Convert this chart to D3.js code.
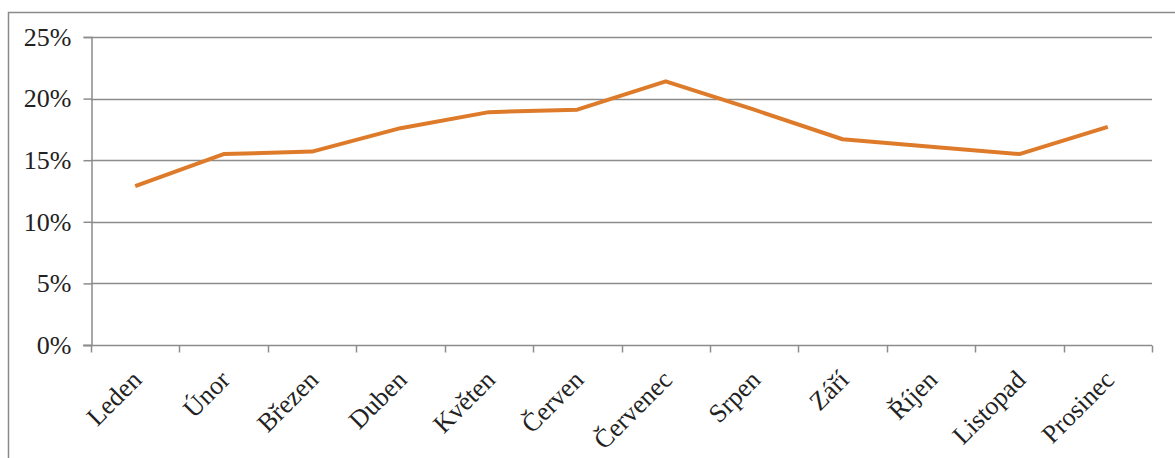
<!DOCTYPE html>
<html>
<head>
<meta charset="utf-8">
<script src="https://cdn.jsdelivr.net/npm/d3@7"></script>
<style>
  body { margin: 0; background: #fff; }
  svg { display: block; }
</style>
</head>
<body>
<script>
var width = 1175;
var height = 458;

// months and share values
var months = ["Leden", "Únor", "Březen", "Duben", "Květen", "Červen",
              "Červenec", "Srpen", "Září", "Říjen", "Listopad", "Prosinec"];
var shares = [0.129, 0.155, 0.157, 0.176, 0.189, 0.191,
              0.214, 0.191, 0.167, 0.161, 0.155, 0.177];
var yTicks = [0, 0.05, 0.10, 0.15, 0.20, 0.25];

var svg = d3.select("body")
    .append("svg")
    .attr("width", width)
    .attr("height", height);

svg.append("rect")
    .attr("width", "100%")
    .attr("height", "100%")
    .attr("fill", "#fff");

// outer frame (right and bottom are cut off in the original)
svg.append("path")
    .attr("d", "M8.5," + height + "V12.5H" + width)
    .attr("fill", "none")
    .attr("stroke", "#8a8a8a")
    .attr("stroke-width", 1.5);

var x = d3.scaleBand()
    .domain(months)
    .range([91, 1152])
    .padding(0);

var y = d3.scaleLinear()
    .domain([0, 0.25])
    .range([345, 37]);

// gridlines
svg.append("g")
    .selectAll("line")
    .data(yTicks.slice(1))
    .enter().append("line")
    .attr("x1", 91)
    .attr("x2", 1152)
    .attr("y1", function(d) { return Math.round(y(d)) + 0.5; })
    .attr("y2", function(d) { return Math.round(y(d)) + 0.5; })
    .style("stroke", "#8c8c8c")
    .style("stroke-width", 1.5);

// y axis
var yAxis = svg.append("g")
    .attr("transform", "translate(91.5,0)")
    .call(d3.axisLeft(y).tickValues(yTicks).tickSize(8).tickPadding(12)
        .tickFormat(d3.format(".0%")));

yAxis.selectAll("text")
    .style("font-family", "'Liberation Serif', 'Times New Roman', serif")
    .style("font-size", "26px")
    .style("fill", "#222");

// x axis, ticks sit between categories
var xAxis = svg.append("g")
    .attr("transform", "translate(0," + (Math.round(y(0)) + 0.5) + ")");

xAxis.append("line")
    .attr("x1", 83)
    .attr("x2", 1152)
    .style("stroke", "#8c8c8c")
    .style("stroke-width", 1.5);

xAxis.selectAll(".tick")
    .data(months.concat(["end"]))
    .enter().append("line")
    .attr("x1", function(d, i) { return Math.round(x.range()[0] + i * x.step()) + 0.5; })
    .attr("x2", function(d, i) { return Math.round(x.range()[0] + i * x.step()) + 0.5; })
    .attr("y1", 0)
    .attr("y2", 7)
    .style("stroke", "#8c8c8c")
    .style("stroke-width", 1.5);

xAxis.selectAll("text")
    .data(months)
    .enter().append("text")
    .attr("transform", function(d) {
        return "translate(" + (x(d) + x.bandwidth() / 2 - 5) + ",23) rotate(-45)";
    })
    .attr("text-anchor", "end")
    .attr("dy", "0.7em")
    .style("font-family", "'Liberation Serif', 'Times New Roman', serif")
    .style("font-size", "26px")
    .style("fill", "#222")
    .text(function(d) { return d; });

yAxis.select(".domain").style("stroke", "#8c8c8c").style("stroke-width", 1.5);
yAxis.selectAll(".tick line").style("stroke", "#8c8c8c").style("stroke-width", 1.5);

// the series line
var line = d3.line()
    .x(function(d, i) { return x(months[i]) + x.bandwidth() / 2; })
    .y(function(d) { return y(d); });

svg.append("path")
    .datum(shares)
    .attr("d", line)
    .attr("fill", "none")
    .attr("stroke", "#de7b2a")
    .attr("stroke-width", 4)
    .attr("stroke-linejoin", "round");
</script>
</body>
</html>
